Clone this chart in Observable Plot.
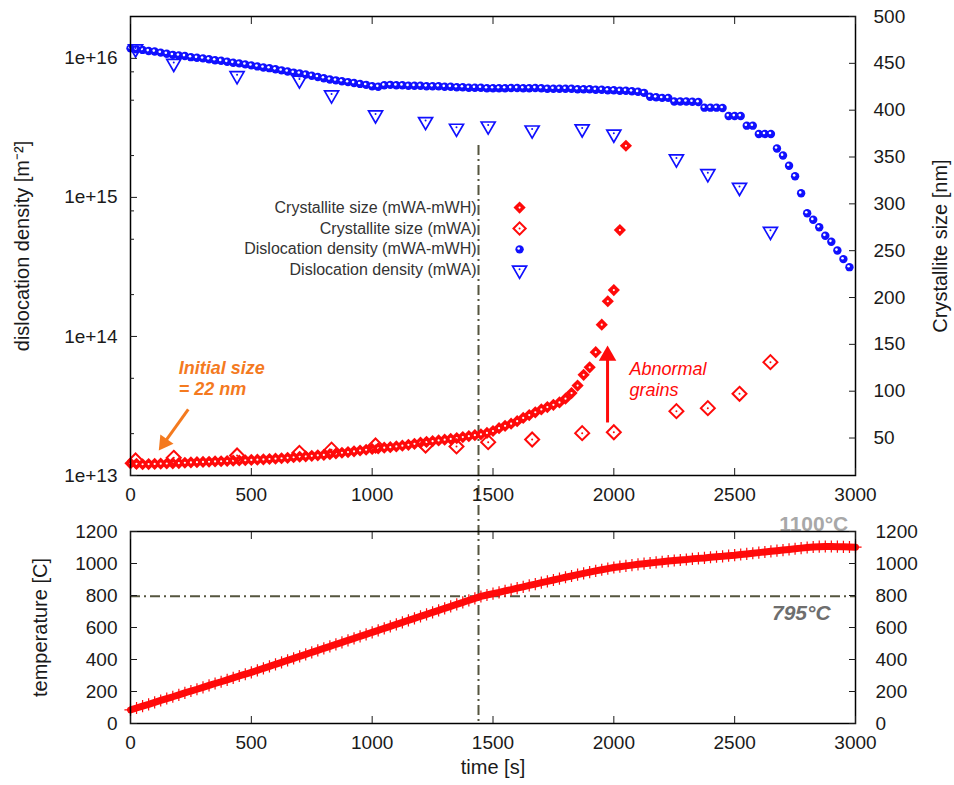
<!DOCTYPE html>
<html><head><meta charset="utf-8">
<script src="https://cdn.jsdelivr.net/npm/d3@7"></script>
<script src="https://cdn.jsdelivr.net/npm/@observablehq/plot@0.6"></script>
<style>
body{margin:0;background:#fff;}
#chart{width:954px;}
#chart svg{display:block;overflow:visible;}
</style></head><body><div id="chart"></div>
<script>
// ---------- data ----------
const sampleTimes = [0,25,50,75,100,125,150,175,200,225,250,275,300,325,350,375,400,425,450,475,
500,525,550,575,600,625,650,675,700,725,750,775,800,825,850,875,900,925,950,975,
1000,1025,1050,1075,1100,1125,1150,1175,1200,1225,1250,1275,1300,1325,1350,1375,1400,1425,1450,1475,
1500,1525,1550,1575,1600,1625,1650,1675,1700,1725,1750,1775,1800,1825,1850,1875,1900,1925,1950,1975,
2000,2025,2050,2075,2100,2125,2150,2175,2200,2225,2250,2275,2300,2325,2350,2375,2400,2425,2450,2475,
2500,2525,2550,2575,2600,2625,2650,2675,2700,2725,2750,2775,2800,2825,2850,2875,2900,2925,2950,2975,
3000];

// Dislocation density (mWA-mWH) [m^-2]
const dislocationMWAmWH = [
1.18e16,1.16e16,1.15e16,1.13e16,1.12e16,1.10e16,1.08e16,1.06e16,1.05e16,1.04e16,1.02e16,1.01e16,1.00e16,9.85e15,9.70e15,9.60e15,9.45e15,9.30e15,9.20e15,9.05e15,
8.90e15,8.75e15,8.60e15,8.50e15,8.35e15,8.20e15,8.05e15,7.90e15,7.80e15,7.65e15,7.50e15,7.35e15,7.20e15,7.05e15,6.95e15,6.85e15,6.75e15,6.65e15,6.55e15,6.45e15,
6.30e15,6.25e15,6.40e15,6.45e15,6.40e15,6.40e15,6.35e15,6.35e15,6.35e15,6.30e15,6.30e15,6.30e15,6.25e15,6.25e15,6.20e15,6.20e15,6.15e15,6.15e15,6.15e15,6.10e15,
6.10e15,6.10e15,6.10e15,6.12e15,6.12e15,6.10e15,6.10e15,6.12e15,6.10e15,6.05e15,6.05e15,6.05e15,6.05e15,6.05e15,6.00e15,6.00e15,6.00e15,5.95e15,5.95e15,5.90e15,
5.90e15,5.85e15,5.85e15,5.80e15,5.75e15,5.65e15,5.30e15,5.25e15,5.20e15,5.20e15,4.90e15,4.90e15,4.90e15,4.88e15,4.85e15,4.42e15,4.42e15,4.42e15,4.40e15,3.85e15,
3.85e15,3.85e15,3.28e15,3.28e15,2.86e15,2.86e15,2.86e15,2.25e15,2.00e15,1.69e15,1.42e15,1.07e15,7.7e14,6.9e14,6.1e14,5.3e14,4.8e14,4.15e14,3.6e14,3.15e14];

// Crystallite size (mWA-mWH) [nm]
const crystalliteMWAmWH = [
23,22.5,22,22.2,22.4,22.6,22.8,23,23.3,23.6,24,24.2,24.5,24.7,25,25.2,25.5,25.8,26,26.3,
26.6,26.9,27.2,27.6,28,28.4,28.9,29.5,30,30.5,31,31.5,32,32.8,33.5,34.3,35,35.8,36.7,37.5,
38.3,39,39.7,40.2,41,41.8,42.8,43.8,45,45.8,46.6,47.4,48.2,49,50,51,52,53,54,55.5,
57.5,60.5,63,65.3,68,71.5,74.5,77.5,80.5,83,85.5,88,92,98,106,117.5,125.5,141.7,171,196,
208,272,362];

// mWA results (sparser)
const mwaTimes = [21,179,441,699,832,1014,1221,1349,1480,1662,1869,2000,2259,2389,2520,2648];
const crystalliteMWA = [26,28.9,31.4,34.2,37.6,42,42,41,45.6,48.4,55.2,56.2,78.7,81.9,97.2,131];
const dislocationMWA = [1.17e16,9.2e15,7.5e15,6.98e15,5.45e15,3.92e15,3.51e15,3.14e15,3.26e15,3.05e15,3.11e15,2.85e15,1.89e15,1.48e15,1.18e15,5.7e14];

// Temperature [C]
const temperature = [
85,97,109,120,132,144,156,167,179,191,203,214,226,238,250,261,273,285,297,308,
320,332,345,357,370,382,395,407,420,432,445,457,470,482,495,507,520,532,545,557,
570,582,595,607,620,632,645,657,670,682,695,707,720,732,745,757,770,782,794,803,
812,820,829,837,846,854,863,871,880,888,897,905,914,922,930,938,946,954,961,968,
975,980,985,990,995,999,1003,1007,1011,1015,1019,1022,1025,1029,1032,1035,1039,1042,1045,1049,
1052,1056,1060,1064,1068,1072,1076,1080,1084,1088,1092,1096,1100,1103,1105,1106,1106,1105,1104,1103,
1102];

const legendLabels = ["Crystallite size (mWA-mWH)","Crystallite size (mWA)","Dislocation density (mWA-mWH)","Dislocation density (mWA)"];
const timeTicks = [0,500,1000,1500,2000,2500,3000];
const densityTicks = [1e13,1e14,1e15,1e16];
const densityMinorTicks = [2e13,5e13,2e14,5e14,8e14,2e15,5e15,8e15];
const sizeTicks = [50,100,150,200,250,300,350,400,450,500];
const tempTicks = [0,200,400,600,800,1000,1200];
const densityDomain = [1e13, 2e16];
const sizeDomain = [10, 500];
const transitionTime = 1440;
const transitionTemp = 795;

// ---------- helpers ----------
const font = "'Liberation Sans', Arial, Helvetica, sans-serif";
const red = "#ff0a0a", blue = "#1010ff", orange = "#f47a1f", refColor = "#55553f";
const dash = "10,4,2,4";
const sizeToLog = d3.scaleLinear().domain(sizeDomain).range(densityDomain.map(Math.log10));
const sizeY = s => 10 ** sizeToLog(s);

const blueRows = dislocationMWAmWH.map((v, i) => ({t: sampleTimes[i], v}));
const redRows = crystalliteMWAmWH.map((s, i) => ({t: sampleTimes[i], y: sizeY(s)}));
const mwaRows = mwaTimes.map((t, i) => ({t, y: sizeY(crystalliteMWA[i]), v: dislocationMWA[i]}));
const tempRows = temperature.map((T, i) => ({t: sampleTimes[i], T}));
const legendY = i => sizeY(296 - 22.3 * i);
const legendTextX = 1432, legendSymX = 1610;

const styleObj = {fontFamily: font, fontSize: "19px", color: "#1a1a1a", background: "white"};
const ink = "#1a1a1a";

const topPlot = Plot.plot({
  width: 954, height: 505,
  marginLeft: 130, marginRight: 99, marginTop: 16, marginBottom: 30,
  style: styleObj,
  x: {domain: [0, 3000]},
  y: {type: "log", domain: densityDomain},
  marks: [
    Plot.ruleX([transitionTime], {x: d => d, y1: 2.36e15, y2: 1e13, insetBottom: -30, stroke: refColor, strokeWidth: 2, strokeDasharray: dash}),
    // dense series
    Plot.dot(blueRows, {x: "t", y: "v", r: 4.2, fill: blue}),
    Plot.dot(blueRows, {x: "t", y: "v", r: 1.3, fill: "white", dx: -0.9, dy: -0.9}),
    Plot.dot(redRows, {x: "t", y: "y", symbol: "diamond2", r: 5.5, fill: red}),
    Plot.dot(redRows, {x: "t", y: "y", r: 1.1, fill: "white"}),
    // sparse series
    Plot.dot(mwaRows, {x: "t", y: "v", symbol: "triangle", rotate: 180, r: 5.2, stroke: blue, strokeWidth: 1.7, fill: "none"}),
    Plot.dot(mwaRows, {x: "t", y: "v", r: 1, fill: blue, dy: -1}),
    Plot.dot(mwaRows, {x: "t", y: "y", symbol: "diamond2", r: 6.3, stroke: red, strokeWidth: 2, fill: "none"}),
    Plot.dot(mwaRows, {x: "t", y: "y", r: 1, fill: red}),
    // legend
    Plot.text(legendLabels, {x: legendTextX, y: (d, i) => legendY(i), text: d => d, textAnchor: "end", fontSize: 16, fill: "#333"}),
    Plot.dot([0], {x: legendSymX, y: legendY(0), symbol: "diamond2", r: 5.5, fill: red}),
    Plot.dot([0], {x: legendSymX, y: legendY(0), r: 1.1, fill: "white"}),
    Plot.dot([0], {x: legendSymX, y: legendY(1), symbol: "diamond2", r: 5.5, stroke: red, strokeWidth: 2, fill: "none"}),
    Plot.dot([0], {x: legendSymX, y: legendY(1), r: 1, fill: red}),
    Plot.dot([0], {x: legendSymX, y: legendY(2), r: 4.2, fill: blue}),
    Plot.dot([0], {x: legendSymX, y: legendY(2), r: 1.3, fill: "white", dx: -0.9, dy: -0.9}),
    Plot.dot([0], {x: legendSymX, y: legendY(3), symbol: "triangle", rotate: 180, r: 5.2, stroke: blue, strokeWidth: 1.7, fill: "none"}),
    Plot.dot([0], {x: legendSymX, y: legendY(3), r: 1, fill: blue, dy: -1}),
    // annotations
    Plot.text(["Initial size\n= 22 nm"], {x: 200, y: sizeY(114), text: d => d, textAnchor: "start", fontSize: 18, fontWeight: "bold", fontStyle: "italic", fill: orange, lineHeight: 1.17}),
    Plot.link([0], {x1: 239, y1: sizeY(80.5), x2: 139.5, y2: sizeY(44.8), stroke: orange, strokeWidth: 3}),
    Plot.dot([0], {x: 139.5, y: sizeY(44.8), symbol: "triangle", rotate: 215.6, r: 6, fill: orange}),
    Plot.text(["Abnormal\ngrains"], {x: 2065, y: sizeY(113.6), text: d => d, textAnchor: "start", fontSize: 18, fontStyle: "italic", fill: red, lineHeight: 1.17}),
    Plot.link([0], {x1: 1974, y1: sizeY(66.6), x2: 1974, y2: sizeY(138), stroke: red, strokeWidth: 3}),
    Plot.dot([0], {x: 1974, y: sizeY(138), symbol: "triangle", r: 6.5, fill: red}),
    // frame & axes
    Plot.frame({stroke: "#000", strokeWidth: 1.5}),
    Plot.axisX({anchor: "bottom", ticks: timeTicks, tickSize: -7, tickPadding: 19, tickFormat: d => String(d), label: null}),
    Plot.axisX({anchor: "top", ticks: timeTicks, tickSize: -7, tickFormat: () => "", label: null}),
    Plot.axisY({anchor: "left", ticks: densityTicks, tickSize: -7, tickPadding: 20, tickFormat: d => "1e+" + Math.round(Math.log10(d)), label: null}),
    Plot.axisY({anchor: "left", ticks: densityMinorTicks, tickSize: -4, tickFormat: () => "", label: null}),
    Plot.axisY({anchor: "right", ticks: sizeTicks.map(sizeY), tickSize: -7, tickFormat: () => "", label: null}),
    Plot.text(sizeTicks, {y: d => sizeY(d), frameAnchor: "right", dx: 18, textAnchor: "start", text: d => String(d), fontSize: 19, fill: ink}),
    Plot.text(["dislocation density [m\u207B\u00B2]"], {frameAnchor: "left", dx: -108, rotate: -90, textAnchor: "middle", fontSize: 20, text: d => d, fill: ink}),
    Plot.text(["Crystallite size [nm]"], {frameAnchor: "right", dx: 85, rotate: -90, textAnchor: "middle", fontSize: 20, text: d => d, fill: ink})
  ]
});

const bottomPlot = Plot.plot({
  width: 954, height: 280,
  marginLeft: 130, marginRight: 99, marginTop: 26, marginBottom: 62,
  style: styleObj,
  x: {domain: [0, 3000]},
  y: {domain: [0, 1200]},
  marks: [
    Plot.ruleY([transitionTemp], {y: d => d, stroke: refColor, strokeWidth: 2, strokeDasharray: dash}),
    Plot.ruleX([transitionTime], {x: d => d, y1: 1200, y2: 0, insetTop: -26, stroke: refColor, strokeWidth: 2, strokeDasharray: dash}),
    Plot.line(tempRows, {x: "t", y: "T", stroke: red, strokeWidth: 7}),
    Plot.dot(tempRows, {x: "t", y: "T", symbol: "plus", r: 4, stroke: red, strokeWidth: 1.2}),
    Plot.text(["795°C"], {x: 2897, y: 692, text: d => d, textAnchor: "end", fontSize: 21, fontWeight: "bold", fontStyle: "italic", fill: "#6e6e6e"}),
    Plot.text(["1100°C"], {x: 2970, y: 1248, text: d => d, textAnchor: "end", fontSize: 21, fontWeight: "bold", fill: "#a8a8a8"}),
    Plot.frame({stroke: "#000", strokeWidth: 1.5}),
    Plot.axisX({anchor: "bottom", ticks: timeTicks, tickSize: -7, tickPadding: 19, tickFormat: d => String(d), label: null}),
    Plot.axisX({anchor: "top", ticks: timeTicks, tickSize: -7, tickFormat: () => "", label: null}),
    Plot.axisY({anchor: "left", ticks: tempTicks, tickSize: -7, tickPadding: 20, tickFormat: d => String(d), label: null}),
    Plot.axisY({anchor: "right", ticks: tempTicks, tickSize: -7, tickPadding: 27, tickFormat: d => String(d), label: null}),
    Plot.text(["temperature [C]"], {frameAnchor: "left", dx: -90, rotate: -90, textAnchor: "middle", fontSize: 20, text: d => d, fill: ink}),
    Plot.text(["time [s]"], {frameAnchor: "bottom", dy: 50, textAnchor: "middle", fontSize: 20, text: d => d, fill: ink})
  ]
});

const chart = document.getElementById("chart");
chart.appendChild(topPlot);
chart.appendChild(bottomPlot);
</script></body></html>
